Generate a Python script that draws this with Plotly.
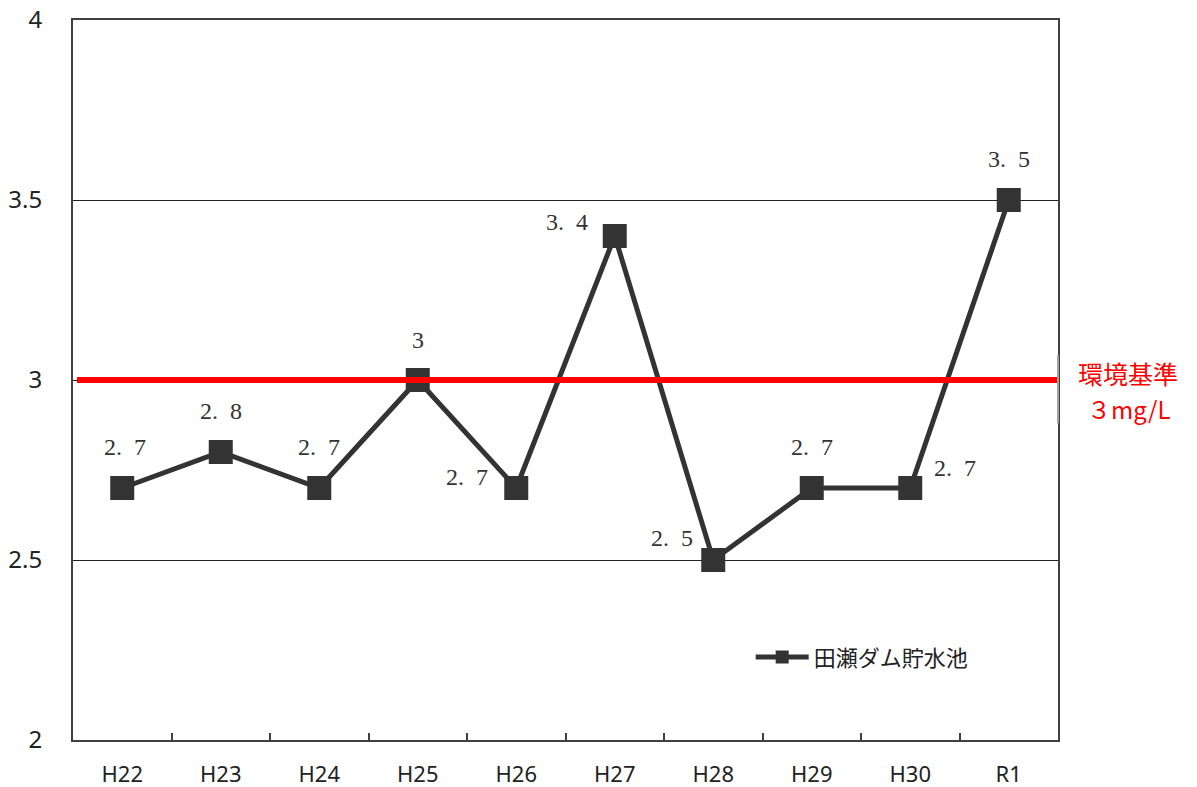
import plotly.graph_objects as go

years = ["H22", "H23", "H24", "H25", "H26", "H27", "H28", "H29", "H30", "R1"]
values = [2.7, 2.8, 2.7, 3.0, 2.7, 3.4, 2.5, 2.7, 2.7, 3.5]
series_name = "田瀬ダム貯水池"
standard_value = 3.0
standard_line1 = "環境基準"
standard_line2 = "３mg/L"
y_ticks = [2, 2.5, 3, 3.5, 4]
y_tick_text = ["2", "2.5", "3", "3.5", "4"]

# label offsets (pixels) per point – style only
label_dx = [3, 0, 0, 0, -49, -48, -41, 0, 45, 0]
label_dy = [-41, -41, -41, -40, -11, -14, -22, -41, -20, -41]

DARK = "#333333"


def fmt(v):
    if float(v).is_integer():
        return str(int(v))
    return f"{v:.1f}".replace(".", ".\u2002")


fig = go.Figure()
fig.add_trace(go.Scatter(
    x=years, y=values, mode="lines+markers", name=series_name,
    line=dict(color=DARK, width=5),
    marker=dict(symbol="square", size=24, color=DARK),
    showlegend=False,
))
# legend entry (smaller marker like the reference legend)
fig.add_trace(go.Scatter(
    x=[None], y=[None], mode="lines+markers", name=series_name,
    line=dict(color=DARK, width=5),
    marker=dict(symbol="square", size=13, color=DARK),
    showlegend=True,
))

for x, v, dx, dy in zip(years, values, label_dx, label_dy):
    fig.add_annotation(x=x, y=v, text=fmt(v), showarrow=False,
                       xshift=dx, yshift=-dy,
                       font=dict(family="Liberation Serif, DejaVu Serif, serif", size=24, color=DARK))

# environmental standard line
fig.add_shape(type="line", xref="paper", yref="y", x0=0.004, x1=1.0,
              y0=standard_value, y1=standard_value,
              line=dict(color="#ff0000", width=6), layer="above")
fig.add_shape(type="line", xref="paper", yref="y", x0=1.0, x1=1.0,
              y0=standard_value - 0.12, y1=standard_value + 0.069,
              line=dict(color="#a0a0a0", width=2), layer="above")
fig.add_annotation(xref="paper", yref="y", x=1.0, y=standard_value, xshift=70, yshift=7,
                   xanchor="center", yanchor="middle",
                   text=standard_line1, showarrow=False,
                   font=dict(family="Noto Sans CJK JP", size=25, color="#ff0000"))
fig.add_annotation(xref="paper", yref="y", x=1.0, y=standard_value, xshift=70, yshift=-28,
                   xanchor="center", yanchor="middle",
                   text=standard_line2, showarrow=False,
                   font=dict(family="Noto Sans CJK JP", size=24, color="#ff0000"))

fig.update_layout(
    width=1197, height=787,
    margin=dict(l=65, r=147, t=12, b=55, autoexpand=False),
    paper_bgcolor="white", plot_bgcolor="white",
    showlegend=True,
    legend=dict(x=0.688, y=0.115, xanchor="left", yanchor="middle",
                bgcolor="rgba(0,0,0,0)",
                font=dict(family="Noto Sans CJK JP", size=22, color="#222222"),
                itemwidth=53),
    font=dict(family="Noto Sans, Open Sans, sans-serif", color="#222222"),
)
fig.update_xaxes(
    type="category", range=[-0.5, 9.5], automargin=False,
    showline=True, linecolor="#404040", linewidth=2, mirror=True,
    ticks="inside", tickson="boundaries", ticklen=7, tickcolor="#404040", tickwidth=1.5,
    showgrid=False, tickfont=dict(size=22, family="Noto Sans, sans-serif", color="#222222"),
    ticklabelstandoff=14, ticklabeloverflow="allow",
)
fig.update_yaxes(
    range=[2, 4], tickvals=y_ticks, ticktext=y_tick_text, automargin=False,
    showline=True, linecolor="#404040", linewidth=2, mirror=True,
    showgrid=True, gridcolor="#222222", gridwidth=1,
    ticks="", tickfont=dict(size=24, family="Noto Sans, sans-serif", color="#222222"),
    ticklabelstandoff=24, zeroline=False, ticklabeloverflow="allow",
)

fig.write_html("out.html")
